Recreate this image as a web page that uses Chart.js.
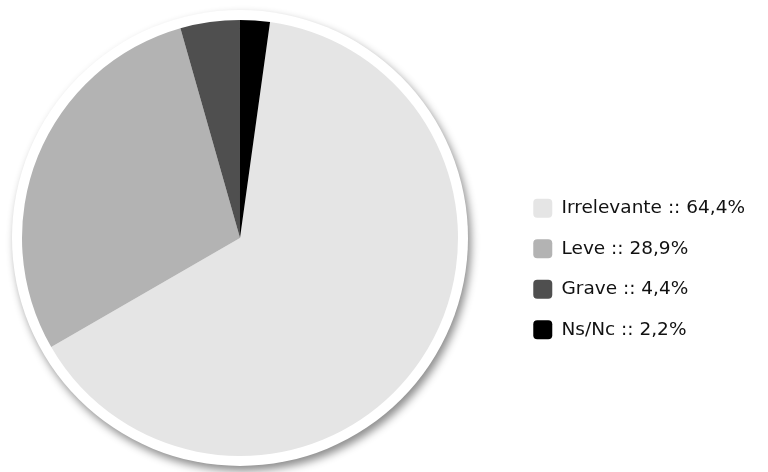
<!DOCTYPE html>
<html>
<head>
<meta charset="utf-8">
<script src="https://cdn.jsdelivr.net/npm/chart.js@4/dist/chart.umd.min.js"></script>
<style>
  html, body { margin: 0; padding: 0; background: #ffffff; }
  #wrap { width: 768px; height: 472px; position: relative; }
</style>
</head>
<body>
<div id="wrap"><canvas id="c" width="768" height="472"></canvas></div>
<script>
const categories = ["Irrelevante", "Leve", "Grave", "Ns/Nc"];
const values = [64.4, 28.9, 4.4, 2.2];
const colors = ["#e5e5e5", "#b3b3b3", "#4f4f4f", "#000000"];
const labelText = categories.map((c, i) => c + " :: " + values[i].toFixed(1).replace(".", ",") + "%");

// keep the pie area a fixed width so the pie sits left of the legend gap
const pieArea = {
  id: "pieArea",
  afterLayout(chart) {
    const a = chart.chartArea;
    a.right = a.left + 480;
    a.width = a.right - a.left;
  }
};

const ringShadow = {
  id: "ringShadow",
  beforeDatasetsDraw(chart) {
    const arc = chart.getDatasetMeta(0).data[0];
    if (!arc) return;
    const ctx = chart.ctx;
    ctx.save();
    ctx.beginPath();
    ctx.arc(arc.x, arc.y, arc.outerRadius + 10, 0, Math.PI * 2);
    ctx.shadowColor = "rgba(0,0,0,0.45)";
    ctx.shadowBlur = 8;
    ctx.shadowOffsetX = 3;
    ctx.shadowOffsetY = 5;
    ctx.fillStyle = "#ffffff";
    ctx.fill();
    ctx.restore();
  }
};

new Chart(document.getElementById("c"), {
  type: "pie",
  data: {
    labels: labelText,
    datasets: [{
      data: values,
      backgroundColor: colors,
      borderWidth: 0
    }]
  },
  options: {
    responsive: false,
    animation: false,
    rotation: values[3] / 100 * 360,
    layout: { padding: { top: 20, bottom: 16, left: 0, right: 13 } },
    plugins: {
      tooltip: { enabled: false },
      legend: {
        position: "right",
        align: "center",
        title: { display: true, text: " ", font: { size: 10 }, padding: { top: 50, bottom: 0 } },
        labels: {
          boxWidth: 19,
          boxHeight: 19,
          padding: 21.5,
          color: "#111111",
          font: { family: "DejaVu Sans", size: 18.5 },
          useBorderRadius: true,
          borderRadius: 4
        }
      }
    }
  },
  plugins: [pieArea, ringShadow]
});
</script>
</body>
</html>
